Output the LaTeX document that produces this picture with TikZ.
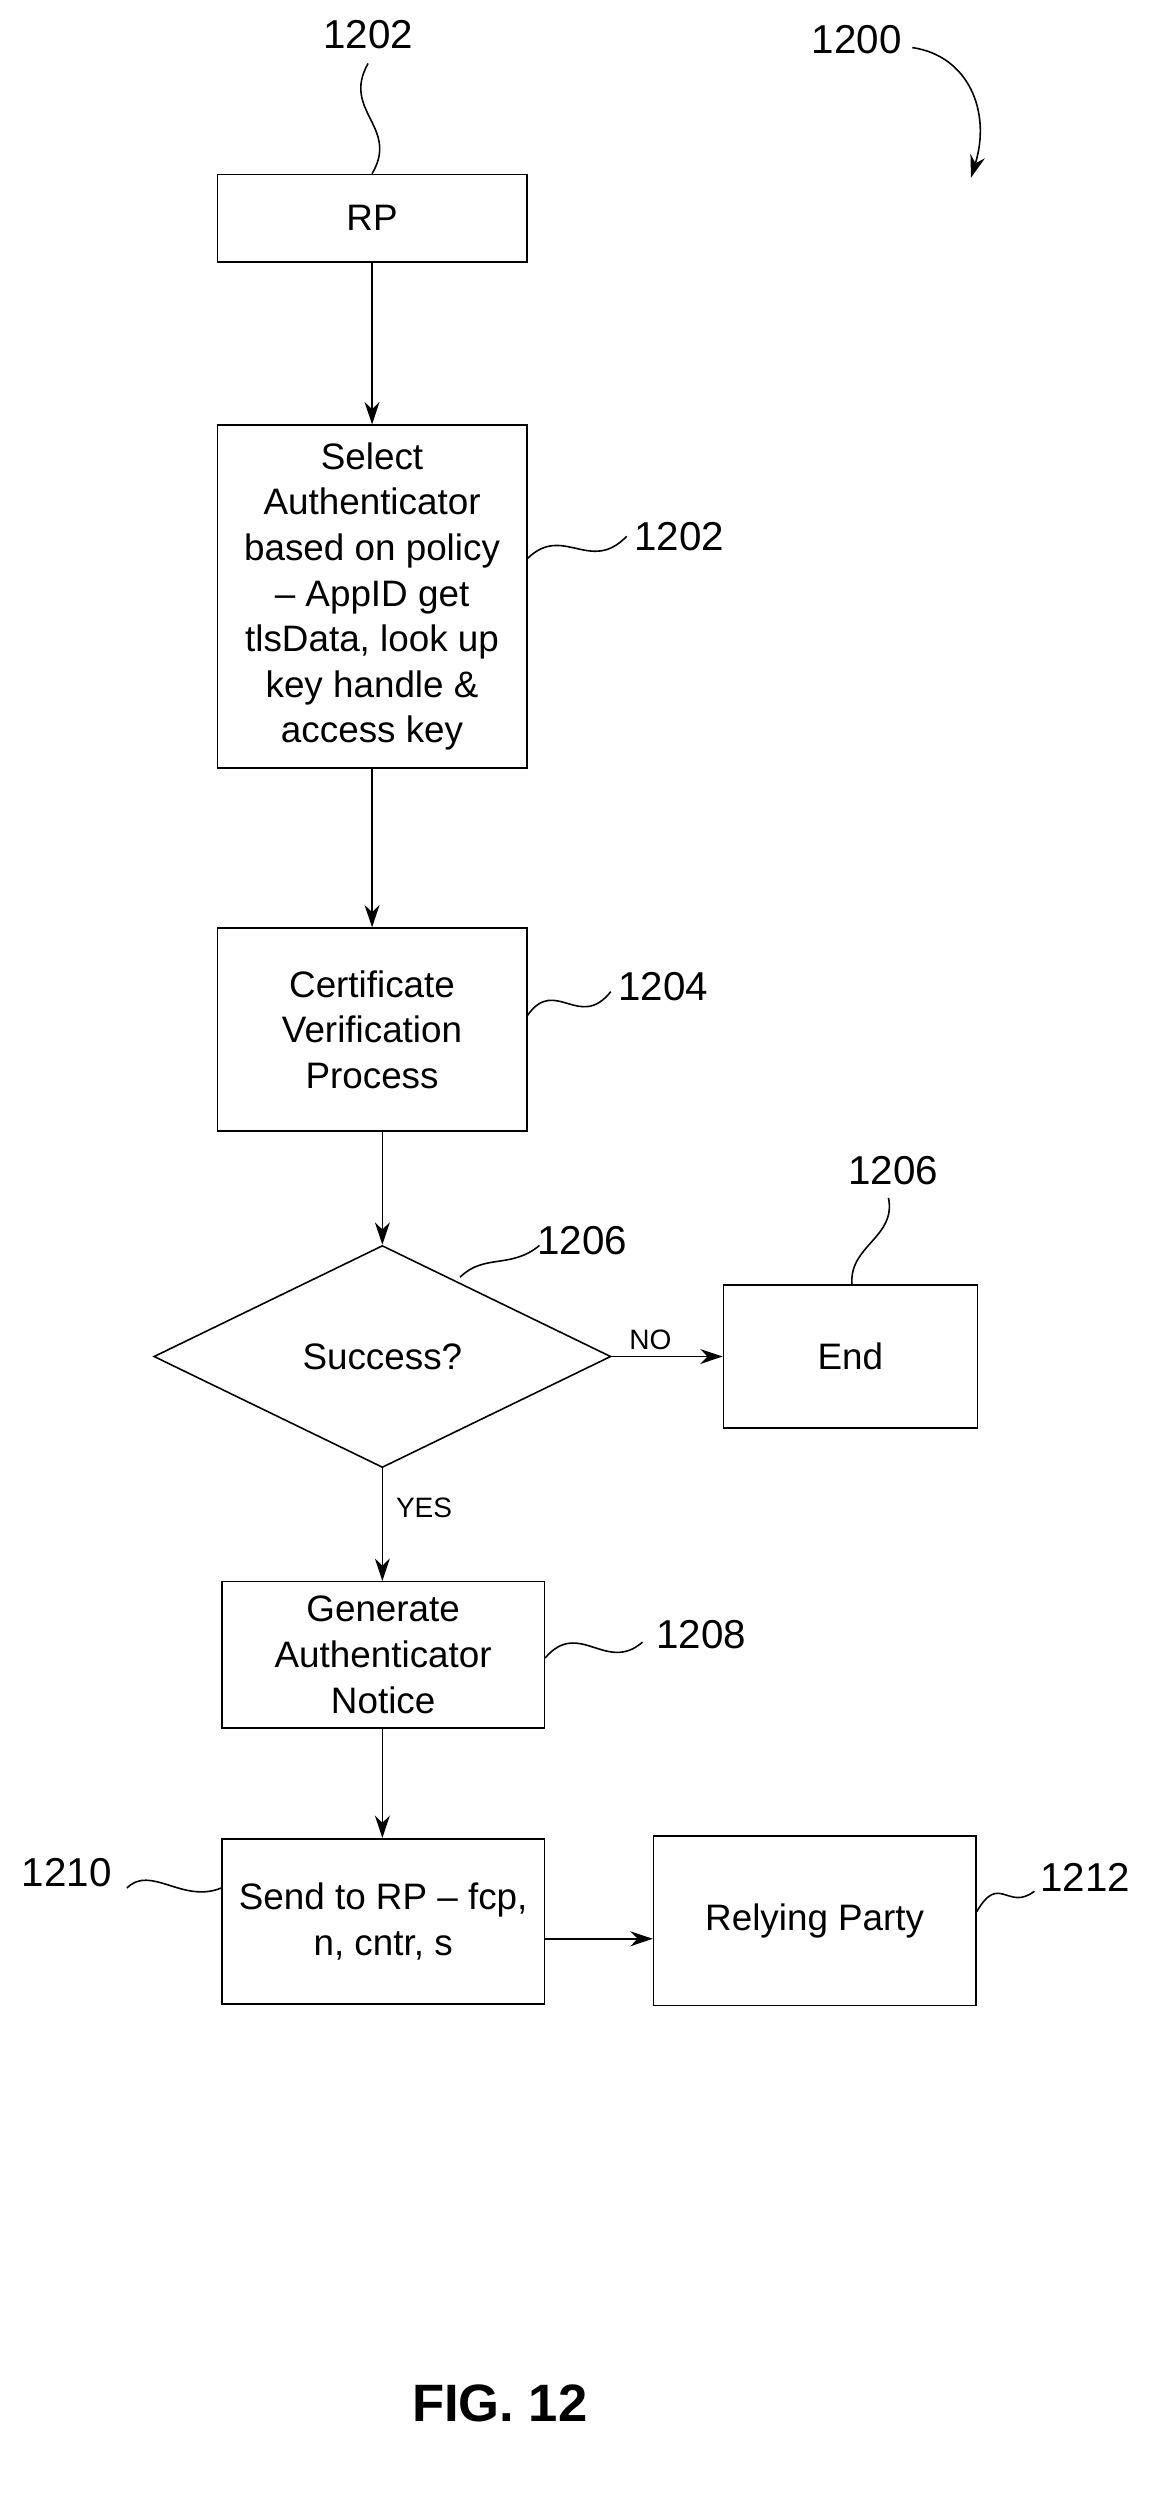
\documentclass[tikz,border=0pt]{standalone}
\usepackage{fontspec}
\setmainfont{Liberation Sans}
\usetikzlibrary{shapes.geometric,arrows.meta}
\tikzset{
  box/.style={draw, line width=0.9pt, align=center, inner sep=2pt, font=\fontsize{21}{26}\selectfont},
  arr/.style={-{Stealth[length=0.45cm,width=0.3cm]}, line width=0.9pt},
  lead/.style={line width=0.9pt},
  ref/.style={font=\fontsize{23}{27}\selectfont},
  tag/.style={font=\fontsize{16}{20}\selectfont}
}
\begin{document}
\begin{tikzpicture}[x=0.0318cm,y=-0.0318cm]
	\useasboundingbox (0,0) rectangle (727,1577);
	
	% Boxes
	\node[box, minimum width=6.2cm, minimum height=1.75cm] (rp) at (234.5,137.5) {RP};
	\node[box, minimum width=6.2cm, minimum height=6.87cm] (sel) at (234.5,376) {Select\\ Authenticator\\ based on policy\\ -- AppID get\\ tlsData, look up\\ key handle \&\\ access key};
	\node[box, minimum width=6.2cm, minimum height=4.07cm] (cert) at (234.5,649) {Certificate\\ Verification\\ Process};
	\node[box, diamond, minimum width=9.16cm, minimum height=4.45cm, aspect=2.06, inner sep=0pt] (dia) at (241,855) {Success?};
	\node[box, minimum width=5.09cm, minimum height=2.86cm] (end) at (536,855) {End};
	\node[box, minimum width=6.46cm, minimum height=2.93cm] (gen) at (241.5,1043) {Generate\\ Authenticator\\ Notice};
	\node[box, minimum width=6.46cm, minimum height=3.31cm] (send) at (241.5,1211) {Send to RP -- fcp,\\ n, cntr, s};
	\node[box, minimum width=6.46cm, minimum height=3.4cm] (rel) at (513.5,1210.5) {Relying Party};
	
	% Connectors
	\draw[arr] (rp) -- (sel);
	\draw[arr] (sel) -- (cert);
	\draw[arr] (cert.south -| dia.north) -- (dia.north);
	\draw[arr] (dia.east) -- node[tag, above, pos=0.35] {NO} (end.west);
	\draw[arr] (dia.south) -- node[tag, right, pos=0.35, xshift=4pt] {YES} (gen.north -| dia.south);
	\draw[arr] (gen.south -| dia.south) -- (send.north -| dia.south);
	\draw[arr] ([yshift=-0.35cm]send.east) -- ([yshift=-0.35cm]send.east -| rel.west);
	
	% Reference numerals
	\node[ref] (n1200) at (540,25) {1200};
	\node[ref] (n1202a) at (232,22) {1202};
	\node[ref] (n1202b) at (428,338) {1202};
	\node[ref] (n1204) at (418,622) {1204};
	\node[ref] (n1206a) at (367,782) {1206};
	\node[ref] (n1206b) at (563,738) {1206};
	\node[ref] (n1208) at (442,1030) {1208};
	\node[ref] (n1210) at (42,1180) {1210};
	\node[ref] (n1212) at (684,1183) {1212};
	\node[font=\bfseries\fontsize{30}{34}\selectfont] (fig) at (315,1515) {FIG. 12};
	
	% Leader lines
	\draw[arr] (575,30) .. controls (610,35) and (625,70) .. (612,112);
	\draw[lead] (232,40) .. controls (215,70) and (252,80) .. (rp.north);
	\draw[lead] (sel.east |- 0,352) .. controls (355,330) and (372,362) .. (395,338);
	\draw[lead] (cert.east |- 0,640) .. controls (350,615) and (365,650) .. (385,625);
	\draw[lead] (290,805) .. controls (305,790) and (322,800) .. (340,785);
	\draw[lead] (end.north -| 537,0) .. controls (535,785) and (565,780) .. (560,755);
	\draw[lead] (gen.east |- 0,1045) .. controls (365,1020) and (382,1055) .. (405,1035);
	\draw[lead] (80,1190) .. controls (95,1175) and (115,1200) .. (send.west |- 0,1190);
	\draw[lead] (rel.east |- 0,1205) .. controls (630,1180) and (635,1205) .. (652,1192);
\end{tikzpicture}
\end{document}
